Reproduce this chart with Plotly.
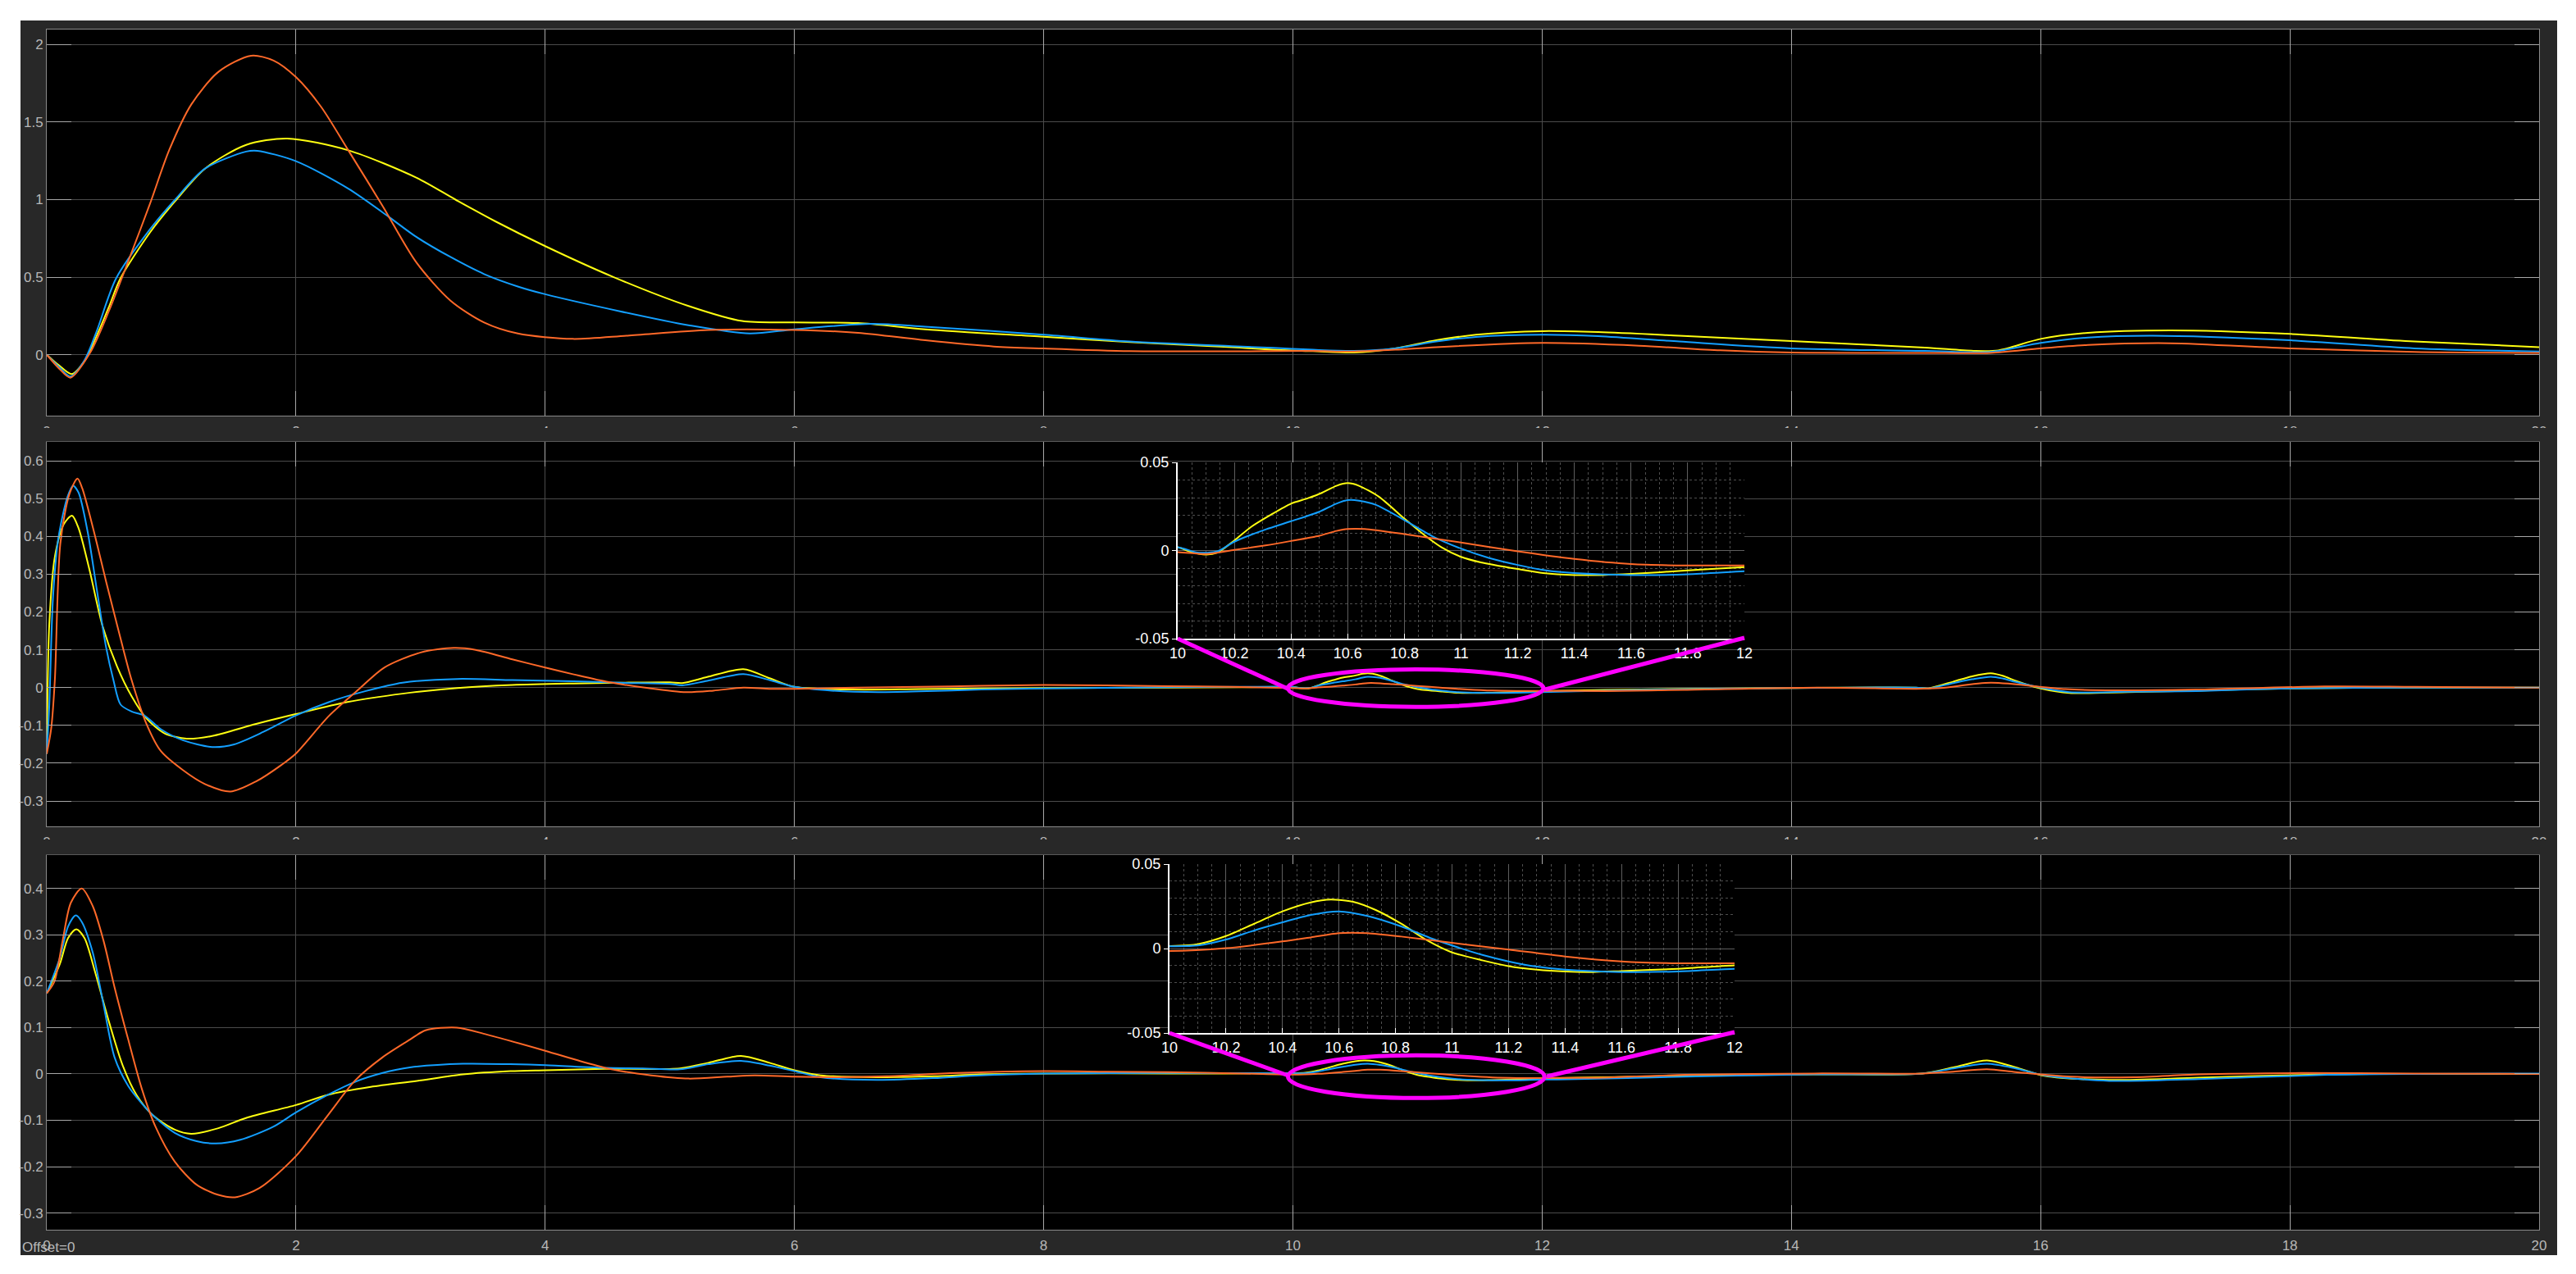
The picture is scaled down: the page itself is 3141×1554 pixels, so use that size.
import plotly.graph_objects as go

# ---------------- data ----------------
TIME_TICKS = list(range(0, 21, 2))
TIME_LABELS = [str(v) for v in TIME_TICKS]

P1_Y_TICKS = [0, 0.5, 1, 1.5, 2]
P1_Y_LABELS = ["0", "0.5", "1", "1.5", "2"]
P2_Y_TICKS = [-0.3, -0.2, -0.1, 0, 0.1, 0.2, 0.3, 0.4, 0.5, 0.6]
P2_Y_LABELS = ["-0.3", "-0.2", "-0.1", "0", "0.1", "0.2", "0.3", "0.4", "0.5", "0.6"]
P3_Y_TICKS = [-0.3, -0.2, -0.1, 0, 0.1, 0.2, 0.3, 0.4]
P3_Y_LABELS = ["-0.3", "-0.2", "-0.1", "0", "0.1", "0.2", "0.3", "0.4"]
INSET_X_TICKS = [10, 10.2, 10.4, 10.6, 10.8, 11, 11.2, 11.4, 11.6, 11.8, 12]
INSET_X_LABELS = ["10", "10.2", "10.4", "10.6", "10.8", "11", "11.2", "11.4", "11.6", "11.8", "12"]
INSET_Y_TICKS = [-0.05, 0, 0.05]
INSET_Y_LABELS = ["-0.05", "0", "0.05"]

# Panel 1
p1_yellow_t = [0, 0.1, 0.2, 0.3, 0.4, 0.5, 0.59, 0.83, 1.03, 1.27, 1.6, 1.93, 2.42, 2.965, 3.28, 3.6,
               4.0, 4.55, 5.15, 5.58, 6.0, 6.51, 7.05, 8.0, 8.69, 9.51, 9.84, 10.16, 10.49, 10.82,
               11.15, 11.47, 12.0, 12.45, 13.1, 14.0, 15.07, 15.46, 15.66, 16.0, 16.38, 17.04,
               18.0, 19.0, 20.0]
p1_yellow_v = [0, -0.07, -0.125, -0.045, 0.12, 0.31, 0.49, 0.79, 0.99, 1.2, 1.353, 1.394, 1.318,
               1.142, 1.0, 0.86, 0.70, 0.5, 0.314, 0.217, 0.208, 0.204, 0.164, 0.116, 0.081, 0.049,
               0.032, 0.023, 0.014, 0.041, 0.093, 0.129, 0.152, 0.146, 0.123, 0.088, 0.046, 0.025,
               0.028, 0.102, 0.141, 0.157, 0.134, 0.085, 0.049]
p1_blue_t = [0, 0.1, 0.19, 0.3, 0.4, 0.555, 0.83, 1.03, 1.27, 1.6, 1.69, 2.0, 2.42, 2.75, 2.965,
             3.24, 3.51, 3.78, 4.0, 4.6, 5.15, 5.64, 6.0, 6.62, 7.05, 8.0, 8.69, 9.51, 9.84, 10.16,
             10.49, 10.82, 11.15, 11.47, 12.0, 12.45, 13.1, 14.0, 15.07, 15.6, 16.0, 16.38, 16.9,
             18.0, 19.0, 20.0]
p1_blue_v = [0, -0.08, -0.14, -0.04, 0.15, 0.49, 0.81, 1.0, 1.2, 1.31, 1.315, 1.248, 1.071,
             0.886, 0.76, 0.63, 0.52, 0.44, 0.39, 0.28, 0.19, 0.137, 0.164, 0.199, 0.181,
             0.129, 0.085, 0.055, 0.044, 0.032, 0.025, 0.041, 0.085, 0.115, 0.129, 0.12, 0.085,
             0.041, 0.025, 0.018, 0.076, 0.111, 0.123, 0.093, 0.041, 0.021]
p1_orange_t = [0, 0.1, 0.19, 0.347, 0.5, 0.676, 0.83, 0.983, 1.16, 1.378, 1.64, 1.82, 2.0, 2.2,
               2.42, 2.69, 2.965, 3.24, 3.51, 3.78, 4.22, 4.66, 5.31, 6.0, 6.51, 7.05, 7.6, 8.0,
               8.69, 9.5, 10.16, 10.49, 10.82, 11.15, 12.0, 12.78, 13.43, 14.0, 15.07, 15.6, 16.0,
               16.38, 17.04, 18.0, 19.0, 20.0]
p1_orange_v = [0, -0.09, -0.148, 0.011, 0.284, 0.649, 0.977, 1.32, 1.614, 1.824, 1.928, 1.897,
               1.79, 1.60, 1.318, 0.966, 0.596, 0.349, 0.208, 0.137, 0.102, 0.123, 0.160, 0.160,
               0.141, 0.093, 0.053, 0.040, 0.023, 0.022, 0.024, 0.021, 0.032, 0.049, 0.076, 0.058,
               0.028, 0.014, 0.012, 0.012, 0.041, 0.063, 0.074, 0.041, 0.018, 0.012]

# Panel 2
p2_yellow_t = [0, 0.02, 0.065, 0.138, 0.203, 0.255, 0.344, 0.446, 0.564, 0.681, 0.799, 0.946,
               1.122, 1.327, 1.68, 1.997, 2.414, 2.855, 3.295, 3.736, 4.229, 4.6, 5.0, 5.1, 5.3,
               5.59, 5.8, 6.0, 6.46, 7.0, 8.0, 9.0, 9.6,
               10.0, 10.04, 10.1, 10.14, 10.2, 10.26, 10.33, 10.4, 10.46, 10.51, 10.56, 10.6,
               10.64, 10.71, 10.8, 10.87, 10.93, 11.0, 11.07, 11.2, 11.29, 11.4, 11.5, 11.6,
               11.8, 12.0, 12.5, 13.0, 14.0, 15.0, 15.1, 15.3, 15.45, 15.6, 15.7, 15.8, 16.0,
               16.23, 16.7, 17.25, 18.0, 19.0, 20.0]
p2_yellow_v = [-0.175, 0.165, 0.346, 0.433, 0.455, 0.422, 0.31, 0.165, 0.056, -0.023, -0.081,
               -0.121, -0.135, -0.128, -0.096, -0.070, -0.038, -0.016, -0.001, 0.007, 0.011,
               0.013, 0.014, 0.012, 0.028, 0.049, 0.025, 0.002, -0.005, -0.004, -0.001, 0.0,
               0.001,
               0.0019, -0.0005, -0.0023, -0.0012, 0.0057, 0.0135, 0.0204, 0.0266, 0.0297, 0.0328,
               0.0367, 0.0382, 0.0367, 0.0305, 0.0181, 0.0088, 0.0019, -0.0036, -0.0067, -0.0105,
               -0.0128, -0.0139, -0.0139, -0.0133, -0.0113, -0.0094, -0.006, -0.004, -0.001, 0.0,
               -0.002, 0.016, 0.030, 0.038, 0.031, 0.018, -0.002, -0.014, -0.012, -0.008, -0.002,
               0.0, 0.0]
p2_blue_t = [0, 0.02, 0.05, 0.094, 0.167, 0.211, 0.255, 0.329, 0.402, 0.476, 0.535, 0.593, 0.681,
             0.784, 0.916, 1.092, 1.327, 1.504, 1.739, 1.997, 2.267, 2.561, 2.855, 3.295, 3.736,
             4.229, 4.6, 5.0, 5.1, 5.3, 5.59, 5.8, 6.0, 6.3, 6.67, 7.0, 7.5, 8.0, 9.0, 9.6,
             10.0, 10.07, 10.14, 10.2, 10.31, 10.4, 10.5, 10.56, 10.6, 10.64, 10.7, 10.8, 10.9,
             11.0, 11.1, 11.2, 11.3, 11.4, 11.6, 11.8, 12.0, 12.5, 13.0, 14.0, 15.0, 15.1, 15.3,
             15.45, 15.6, 15.7, 15.8, 16.0, 16.23, 16.7, 17.25, 18.0, 19.0, 20.0]
p2_blue_v = [-0.175, -0.05, 0.237, 0.397, 0.505, 0.534, 0.516, 0.411, 0.259, 0.107, 0.02, -0.045,
             -0.063, -0.074, -0.11, -0.139, -0.157, -0.15, -0.117, -0.074, -0.038, -0.009, 0.013,
             0.023, 0.020, 0.017, 0.013, 0.01, 0.006, 0.018, 0.036, 0.02, 0.002, -0.008, -0.012,
             -0.01, -0.005, -0.002, 0.001, 0.002,
             0.0019, -0.0012, -0.0005, 0.005, 0.0119, 0.0166, 0.022, 0.0266, 0.0286, 0.0283,
             0.0259, 0.0173, 0.008, 0.0011, -0.0043, -0.0082, -0.0113, -0.0128, -0.0139, -0.0135,
             -0.0118, -0.008, -0.005, -0.001, 0.0, -0.002, 0.012, 0.022, 0.029, 0.024, 0.015,
             0.0, -0.012, -0.011, -0.009, -0.002, 0.0, 0.0]
p2_orange_t = [0, 0.035, 0.065, 0.109, 0.182, 0.247, 0.285, 0.373, 0.476, 0.593, 0.681, 0.799,
               0.916, 1.092, 1.269, 1.474, 1.68, 1.885, 1.997, 2.267, 2.502, 2.708, 3.001, 3.266,
               3.442, 3.736, 4.0, 4.229, 4.51, 4.8, 5.13, 5.35, 5.59, 5.8, 6.0, 6.5, 7.0, 7.5,
               8.0, 8.5, 9.0, 9.5,
               10.0, 10.1, 10.2, 10.31, 10.4, 10.5, 10.56, 10.6, 10.66, 10.8, 11.0, 11.2, 11.4,
               11.6, 11.8, 12.0, 12.5, 13.14, 14.2, 15.0, 15.2, 15.6, 16.2, 16.6, 17.25, 18.28,
               19.0, 20.0]
p2_orange_v = [-0.175, -0.11, 0.02, 0.381, 0.512, 0.553, 0.527, 0.420, 0.281, 0.129, 0.020,
               -0.095, -0.168, -0.218, -0.255, -0.275, -0.248, -0.204, -0.175, -0.074, -0.005,
               0.053, 0.093, 0.105, 0.1, 0.075, 0.053, 0.035, 0.0145, 0.0, -0.012, -0.008, 0.0,
               -0.003, -0.003, 0.0, 0.002, 0.005, 0.007, 0.006, 0.004, 0.002,
               -0.0009, -0.002, 0.0003, 0.0029, 0.0054, 0.0084, 0.0111, 0.0122, 0.0122, 0.0093,
               0.0045, -0.0005, -0.0048, -0.0077, -0.0085, -0.0085, -0.009, -0.006, 0.0, -0.003,
               -0.001, 0.013, -0.004, -0.007, -0.005, 0.003, 0.002, 0.0]

# Panel 3
p3_yellow_t = [0, 0.105, 0.171, 0.237, 0.303, 0.39, 0.5, 0.61, 0.72, 0.851, 1.027, 1.159, 1.378,
               1.598, 2.0, 2.256, 2.6, 2.97, 3.34, 3.72, 4.0, 4.48, 5.08, 5.31, 5.57, 5.8, 6.0,
               6.21, 6.66, 7.12, 7.49, 8.0, 9.0,
               10.0, 10.1, 10.2, 10.3, 10.4, 10.5, 10.57, 10.65, 10.73, 10.82, 10.91, 11.0,
               11.11, 11.2, 11.3, 11.4, 11.5, 11.6, 11.8, 12.0, 12.5, 13.15, 14.18, 15.05, 15.3,
               15.57, 15.8, 16.03, 16.55, 17.27, 18.3, 19.0, 20.0]
p3_yellow_v = [0.174, 0.237, 0.293, 0.312, 0.293, 0.218, 0.112, 0.018, -0.045, -0.089, -0.120,
               -0.129, -0.117, -0.095, -0.067, -0.045, -0.028, -0.015, -0.001, 0.006, 0.008,
               0.011, 0.012, 0.024, 0.039, 0.024, 0.008, -0.003, -0.007, -0.005, -0.001, 0.001,
               0.001,
               0.0015, 0.0026, 0.0074, 0.0147, 0.022, 0.0273, 0.029, 0.0277, 0.0228, 0.0147,
               0.005, -0.0023, -0.0071, -0.0104, -0.0125, -0.0136, -0.0139, -0.0133, -0.012,
               -0.0099, -0.007, -0.004, -0.001, 0.001, 0.014, 0.029, 0.014, -0.004, -0.013,
               -0.008, -0.001, 0.0, 0.0]
p3_blue_t = [0, 0.105, 0.171, 0.233, 0.281, 0.369, 0.456, 0.544, 0.654, 0.764, 0.851, 1.027,
             1.203, 1.356, 1.554, 1.817, 2.0, 2.256, 2.475, 2.695, 2.914, 3.34, 3.72, 4.0, 4.48,
             4.78, 5.08, 5.31, 5.57, 5.8, 6.0, 6.21, 6.66, 7.12, 7.49, 8.0, 9.0,
             10.0, 10.1, 10.2, 10.3, 10.4, 10.5, 10.6, 10.7, 10.82, 10.93, 11.0, 11.11, 11.2,
             11.3, 11.4, 11.6, 11.8, 12.0, 12.12, 13.15, 14.18, 15.05, 15.3, 15.57, 15.8, 16.03,
             16.55, 17.27, 18.3, 19.0, 20.0]
p3_blue_v = [0.174, 0.25, 0.318, 0.342, 0.328, 0.262, 0.149, 0.036, -0.026, -0.064, -0.089,
             -0.127, -0.145, -0.150, -0.142, -0.114, -0.083, -0.045, -0.017, 0.002, 0.014,
             0.022, 0.021, 0.019, 0.013, 0.012, 0.010, 0.021, 0.028, 0.018, 0.006, -0.007,
             -0.013, -0.009, -0.003, 0.001, 0.002,
             0.0013, 0.0018, 0.0053, 0.0107, 0.0155, 0.0199, 0.022, 0.0193, 0.0131, 0.0058,
             0.0018, -0.0039, -0.0076, -0.0107, -0.0125, -0.0139, -0.0136, -0.012, -0.012,
             -0.006, -0.001, 0.001, 0.012, 0.022, 0.012, -0.003, -0.015, -0.011, -0.002, 0.0,
             0.001]
p3_orange_t = [0, 0.061, 0.127, 0.193, 0.281, 0.369, 0.456, 0.544, 0.654, 0.764, 0.873, 1.027,
               1.203, 1.378, 1.51, 1.707, 2.0, 2.256, 2.475, 2.695, 2.914, 3.04, 3.29, 3.53,
               4.0, 4.29, 4.55, 4.85, 5.15, 5.46, 5.68, 6.0, 6.36, 6.74, 7.3, 8.0, 8.5, 9.0,
               9.6,
               10.0, 10.2, 10.4, 10.5, 10.6, 10.7, 10.82, 11.0, 11.2, 11.4, 11.6, 11.8, 12.0,
               12.5, 13.15, 14.18, 15.05, 15.3, 15.57, 15.8, 16.24, 16.75, 17.27, 18.09, 19.0,
               20.0]
p3_orange_v = [0.174, 0.199, 0.287, 0.369, 0.400, 0.362, 0.287, 0.187, 0.074, -0.033, -0.114,
               -0.189, -0.239, -0.261, -0.266, -0.246, -0.177, -0.089, -0.014, 0.036, 0.074,
               0.094, 0.100, 0.085, 0.05, 0.027, 0.009, -0.003, -0.010, -0.006, -0.003, -0.006,
               -0.007, -0.005, 0.002, 0.006, 0.005, 0.004, 0.001,
               -0.0015, 0.0002, 0.0042, 0.0066, 0.0091, 0.0091, 0.0071, 0.0034, -0.0006,
               -0.0047, -0.0076, -0.0087, -0.0087, -0.008, -0.002, 0.001, 0.001, 0.005, 0.010,
               0.004, -0.006, -0.007, -0.001, 0.002, 0.001, 0.0]

# ---------------- styling ----------------
W, H = 3141, 1554
PL, PR, PT, PB = 57, 3096, 36, 1500  # plot area in pixels


def px(x):
    return (x - PL) / (PR - PL)


def py(y):
    return (PB - y) / (PB - PT)


YELLOW = "#FFFF11"
BLUE = "#139FFF"
ORANGE = "#FF6929"
BOX = "#282828"
GRID = "#4b4b4b"
FRAME = "#8a8a8a"
TICK = "#a8a8a8"
LABEL = "#b8b8b8"
FONT = "Liberation Sans, Arial, sans-serif"
MAGENTA = "#FF00FF"

fig = go.Figure()

panels = [
    ("x", "y", [(p1_yellow_t, p1_yellow_v, YELLOW), (p1_blue_t, p1_blue_v, BLUE),
                (p1_orange_t, p1_orange_v, ORANGE)], None),
    ("x2", "y2", [(p2_yellow_t, p2_yellow_v, YELLOW), (p2_blue_t, p2_blue_v, BLUE),
                  (p2_orange_t, p2_orange_v, ORANGE)], ("x4", "y4", "x5", "y5")),
    ("x3", "y3", [(p3_yellow_t, p3_yellow_v, YELLOW), (p3_blue_t, p3_blue_v, BLUE),
                  (p3_orange_t, p3_orange_v, ORANGE)], ("x6", "y6", "x7", "y7")),
]

for xa, ya, series, _ in panels:
    for t, v, c in series:
        fig.add_trace(go.Scatter(x=t, y=v, mode="lines", xaxis=xa, yaxis=ya,
                                 line=dict(color=c, width=2, shape="spline", smoothing=0.8),
                                 hoverinfo="skip", showlegend=False))

# inset backgrounds + inset content (drawn on later subplots -> on top)
for xa, ya, series, inset in panels:
    if inset is None:
        continue
    bx, by, ix, iy = inset
    fig.add_trace(go.Scatter(x=[0, 1, 1, 0, 0], y=[0, 0, 1, 1, 0], mode="lines",
                             fill="toself", fillcolor="#262626", line=dict(width=0),
                             xaxis=bx, yaxis=by, hoverinfo="skip", showlegend=False))
    for t, v, c in series:
        fig.add_trace(go.Scatter(x=t, y=v, mode="lines", xaxis=ix, yaxis=iy,
                                 line=dict(color=c, width=2, shape="spline", smoothing=0.7),
                                 hoverinfo="skip", showlegend=False))

main_x = dict(range=[0, 20], tickmode="array", tickvals=TIME_TICKS, ticktext=TIME_LABELS,
              showgrid=True, gridcolor=GRID, gridwidth=1, zeroline=False,
              showline=True, linecolor=FRAME, linewidth=1, mirror="ticks",
              ticks="inside", ticklen=30, tickcolor=TICK, tickwidth=1,
              tickfont=dict(size=17, color=LABEL, family=FONT), ticklabelstandoff=4)


def main_y(rng, tv, tt, dom):
    return dict(range=rng, domain=dom, tickmode="array", tickvals=tv, ticktext=tt,
                showgrid=True, gridcolor=GRID, gridwidth=1, zeroline=False,
                showline=True, linecolor=FRAME, linewidth=1, mirror="ticks",
                ticks="inside", ticklen=30, tickcolor=TICK, tickwidth=1,
                tickfont=dict(size=17, color=LABEL, family=FONT), ticklabelstandoff=0)


D1 = [py(507), 1.0]
D2 = [py(1008), py(539)]
D3 = [0.0, py(1043)]
I1X = [px(1436), px(2127)]
I1Y = [py(779), py(564)]
I2X = [px(1426), px(2115)]
I2Y = [py(1260), py(1054)]


def inset_x(dom, anchor):
    return dict(domain=dom, anchor=anchor, range=[10, 12], tickmode="array",
                tickvals=INSET_X_TICKS, ticktext=INSET_X_LABELS,
                showgrid=True, gridcolor="#5e5e5e", gridwidth=1, zeroline=False,
                showline=True, linecolor="white", linewidth=2,
                ticks="inside", ticklen=6, tickcolor="white",
                tickfont=dict(size=18, color="white", family=FONT),
                minor=dict(tickmode="linear", tick0=10, dtick=0.05, showgrid=True,
                           gridcolor="#4e4e4e", griddash="dot", ticks=""))


def inset_y(dom, anchor):
    return dict(domain=dom, anchor=anchor, range=[-0.05, 0.05], tickmode="array",
                tickvals=INSET_Y_TICKS, ticktext=INSET_Y_LABELS,
                showgrid=True, gridcolor="#5e5e5e", gridwidth=1, zeroline=False,
                showline=True, linecolor="white", linewidth=2,
                ticks="outside", ticklen=5, tickcolor="white",
                tickfont=dict(size=18, color="white", family=FONT),
                minor=dict(tickmode="linear", tick0=-0.05, dtick=0.01, showgrid=True,
                           gridcolor="#4e4e4e", griddash="dot", ticks=""))


hidden = dict(visible=False, range=[0, 1], fixedrange=True)

fig.update_layout(
    width=W, height=H,
    margin=dict(l=PL, r=W - PR, t=PT, b=H - PB, pad=0),
    paper_bgcolor=BOX, plot_bgcolor="black",
    showlegend=False,
    xaxis=dict(main_x, domain=[0, 1], anchor="y"),
    yaxis=main_y([-0.393, 2.097], P1_Y_TICKS, P1_Y_LABELS, D1),
    xaxis2=dict(main_x, domain=[0, 1], anchor="y2"),
    yaxis2=dict(main_y([-0.367, 0.650], P2_Y_TICKS, P2_Y_LABELS, D2), anchor="x2"),
    xaxis3=dict(main_x, domain=[0, 1], anchor="y3"),
    yaxis3=dict(main_y([-0.336, 0.472], P3_Y_TICKS, P3_Y_LABELS, D3), anchor="x3"),
    xaxis4=dict(hidden, domain=I1X, anchor="y4"),
    yaxis4=dict(hidden, domain=I1Y, anchor="x4"),
    xaxis5=inset_x(I1X, "y5"),
    yaxis5=inset_y(I1Y, "x5"),
    xaxis6=dict(hidden, domain=I2X, anchor="y6"),
    yaxis6=dict(hidden, domain=I2Y, anchor="x6"),
    xaxis7=inset_x(I2X, "y7"),
    yaxis7=inset_y(I2Y, "x7"),
)

shapes = []
# white page border around the dark scope box
fx0, fx1 = px(0), px(W)
fy0, fy1 = py(H), py(0)
bx0, bx1, by0, by1 = px(25), px(3118), py(1531), py(25)
for (a, b, c, d) in [(fx0, bx0, fy0, fy1), (bx1, fx1, fy0, fy1),
                     (fx0, fx1, by1, fy1), (fx0, fx1, fy0, by0)]:
    shapes.append(dict(type="rect", xref="paper", yref="paper", x0=a, x1=b, y0=c, y1=d,
                       fillcolor="white", line=dict(width=0), layer="below"))
# strips that hide the lower half of the upper panels' time labels
for (ya, yb) in [(522, 538.5), (1024, 1042.5)]:
    shapes.append(dict(type="rect", xref="paper", yref="paper", x0=bx0, x1=bx1,
                       y0=py(yb), y1=py(ya), fillcolor=BOX, line=dict(width=0), layer="above"))
# magenta zoom markers
shapes += [
    dict(type="circle", xref="x2", yref="y2", x0=9.96, x1=12.01, y0=-0.051, y1=0.048,
         line=dict(color=MAGENTA, width=5), layer="above"),
    dict(type="line", xref="paper", yref="paper", x0=px(1436), y0=py(779), x1=px(1570),
         y1=py(840), line=dict(color=MAGENTA, width=5), layer="above"),
    dict(type="line", xref="paper", yref="paper", x0=px(2127), y0=py(778), x1=px(1884),
         y1=py(841), line=dict(color=MAGENTA, width=5), layer="above"),
    dict(type="circle", xref="x3", yref="y3", x0=9.96, x1=12.02, y0=-0.052, y1=0.040,
         line=dict(color=MAGENTA, width=5), layer="above"),
    dict(type="line", xref="paper", yref="paper", x0=px(1426), y0=py(1260), x1=px(1571),
         y1=py(1312), line=dict(color=MAGENTA, width=5), layer="above"),
    dict(type="line", xref="paper", yref="paper", x0=px(2115), y0=py(1259), x1=px(1886),
         y1=py(1313), line=dict(color=MAGENTA, width=5), layer="above"),
]
fig.update_layout(shapes=shapes)

fig.add_annotation(text="Offset=0", xref="paper", yref="paper", x=px(25), y=py(1521),
                   xanchor="left", yanchor="middle", showarrow=False,
                   font=dict(size=17, color=LABEL, family=FONT))

fig.write_html("out.html", config={"displayModeBar": False},
               post_script="document.body.style.margin='0';")
